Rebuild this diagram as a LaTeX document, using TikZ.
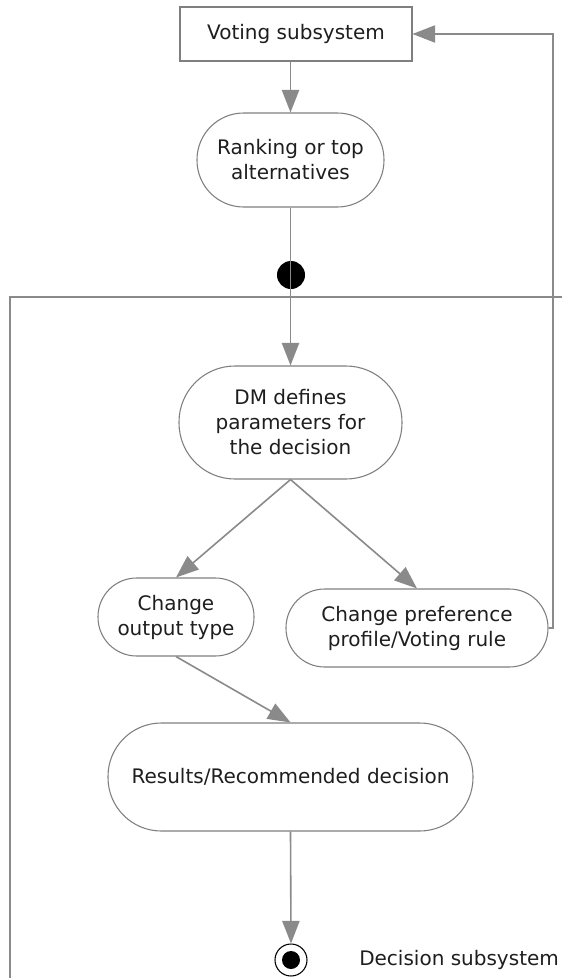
\documentclass[tikz,border=0pt]{standalone}
\usepackage{fontspec}
\setmainfont{DejaVu Sans}
\usetikzlibrary{arrows.meta}
\definecolor{ln}{HTML}{8A8A8A}
\definecolor{bd}{HTML}{7F7F7F}
\definecolor{tx}{HTML}{1E1E1E}
\tikzset{
  base/.style={draw=bd, line width=0.8pt, fill=white, text=tx, align=center, inner sep=0pt,
    font=\fontsize{15}{18.75}\selectfont},
  box/.style={base, rectangle},
  act/.style={base, rectangle},
  arr/.style={draw=ln, line width=1.2pt, -{Triangle[length=17pt,width=13pt]}},
  part/.style={draw=ln, line width=0.9pt},
}
\begin{document}
\begin{tikzpicture}[x=0.75pt,y=-0.75pt]
\useasboundingbox (0,0) rectangle (562,978);
\node[box, minimum width=174pt, minimum height=40.5pt] (vote) at (296,34) {Voting subsystem};
\node[act, minimum width=140.25pt, minimum height=70.5pt, rounded corners=35pt] (rank) at (290.5,160) {Ranking or top\\alternatives};
\node[circle, fill=black, minimum size=21pt, inner sep=0pt] (dot) at (291,275) {};
\node[act, minimum width=167.25pt, minimum height=84.75pt, rounded corners=42pt] (dm) at (290.5,422.5) {DM defines\\parameters for\\the decision};
\node[act, minimum width=117pt, minimum height=58.5pt, rounded corners=29pt] (out) at (176,617) {Change\\output type};
\node[act, minimum width=196.5pt, minimum height=58.5pt, rounded corners=29pt] (pref) at (417,628) {Change preference\\profile/Voting rule};
\node[act, minimum width=273.75pt, minimum height=81pt, rounded corners=40pt] (res) at (290.5,777) {Results/Recommended decision};
\node[circle, draw=black, line width=0.8pt, fill=white, minimum size=24pt, inner sep=0pt] (end) at (291,960) {};
\node[circle, fill=black, minimum size=13.5pt, inner sep=0pt] (endin) at (end.center) {};
\node[anchor=west, text=tx, inner sep=0pt, font=\fontsize{15}{18.75}\selectfont] (lbl) at (359,960) {Decision subsystem};
\coordinate (pl) at (10,978);
\coordinate (pc) at (10,297);
\coordinate (pr) at (562,297);
\coordinate (fbr) at (553,628);
\coordinate (fbt) at (553,34);
\draw[part] (pl) -- (pc) -- (pr);
\draw[arr] (rank.north |- vote.south) -- (rank.north);
\draw[arr] (rank.south) -- (dm.north);
\draw[arr] (dm.south) -- (out.north);
\draw[arr] (dm.south) -- (pref.north);
\draw[arr] (out.south) -- (res.north);
\draw[arr] (res.south) -- (end.north);
\draw[arr, line width=0.9pt] (pref.east) -- (fbr) -- (fbt) -- (vote.east);
\end{tikzpicture}
\end{document}
